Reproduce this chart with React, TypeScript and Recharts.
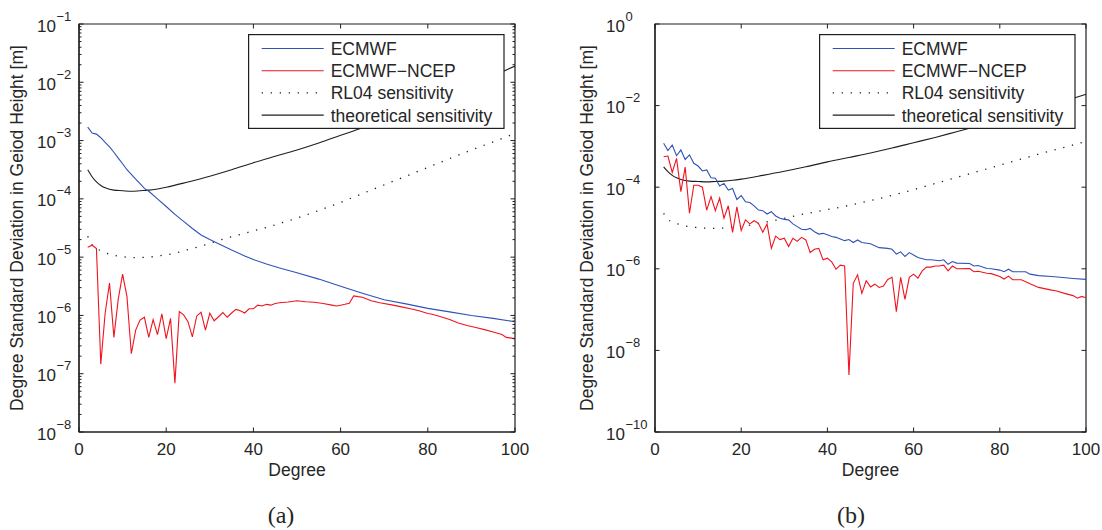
import React from 'react';
import { LineChart, Line, XAxis, YAxis, ReferenceArea } from 'recharts';

const SANS = '"Liberation Sans", Arial, Helvetica, sans-serif';
const SERIF = '"Liberation Serif", "Times New Roman", Times, serif';
const INK = '#262626';
const BLUE = '#2f52b8';
const RED = '#f0141e';
const BLACK = '#1e1e1e';

// ---------- tick values / labels ----------
const xTickValues = [0, 20, 40, 60, 80, 100];
const yMajorA = [1e-8, 1e-7, 1e-6, 1e-5, 1e-4, 1e-3, 1e-2, 1e-1];
const minorMultipliers = [2, 3, 4, 5, 6, 7, 8, 9];
const yMajorB = [1e-10, 1e-8, 1e-6, 1e-4, 1e-2, 1];
const legendNames = ['ECMWF', 'ECMWF\u2212NCEP', 'RL04 sensitivity', 'theoretical sensitivity'];
const xTitle = 'Degree';
const yTitle = 'Degree Standard Deviation in Geiod Height [m]';
const captions = ['(a)', '(b)'];

// ---------- shared sensitivity curves ----------
const theoDeg = [2, 3, 4, 5, 6, 8, 10, 12, 14, 16, 18, 20, 25, 30, 35, 40, 45, 50, 55, 60, 65, 70, 75, 80, 85, 90, 95, 100];
const theoVal = [3.16e-4, 2.4e-4, 1.95e-4, 1.7e-4, 1.55e-4, 1.41e-4, 1.38e-4, 1.35e-4, 1.38e-4, 1.41e-4, 1.48e-4, 1.58e-4, 1.95e-4, 2.45e-4, 3.16e-4, 4.17e-4, 5.37e-4, 6.9e-4, 9.1e-4, 1.23e-3, 1.66e-3, 2.29e-3, 3.16e-3, 4.37e-3, 6.2e-3, 8.9e-3, 1.29e-2, 1.9e-2];

const rl04Deg = [2, 3, 4, 5, 7, 10, 13, 16, 19, 22, 25, 28, 31, 34, 37, 40, 43, 47, 50, 55, 60, 65, 70, 75, 80, 85, 90, 95, 100];
const rl04Val = [2.29e-5, 1.62e-5, 1.41e-5, 1.29e-5, 1.12e-5, 1.02e-5, 9.8e-6, 1.0e-5, 1.07e-5, 1.17e-5, 1.35e-5, 1.55e-5, 1.82e-5, 2.14e-5, 2.45e-5, 2.82e-5, 3.24e-5, 3.98e-5, 4.68e-5, 6.31e-5, 8.7e-5, 1.23e-4, 1.74e-4, 2.45e-4, 3.47e-4, 4.9e-4, 6.9e-4, 9.5e-4, 1.32e-3];

// ---------- panel (a) ----------
const ecmwfADeg = [2, 3, 4, 5, 6, 7, 8, 9, 10, 11, 12, 13, 14, 15, 16, 18, 20, 22, 24, 26, 28, 30, 32, 35, 38, 40, 43, 46, 50, 55, 60, 65, 70, 75, 80, 85, 90, 95, 100];
const ecmwfAVal = [1.7e-3, 1.35e-3, 1.29e-3, 1.12e-3, 9.3e-4, 7.8e-4, 6.3e-4, 5.0e-4, 4.0e-4, 3.16e-4, 2.63e-4, 2.19e-4, 1.82e-4, 1.51e-4, 1.35e-4, 1.0e-4, 7.4e-5, 5.4e-5, 4.1e-5, 3.1e-5, 2.4e-5, 2.0e-5, 1.7e-5, 1.32e-5, 1.05e-5, 9.1e-6, 7.6e-6, 6.5e-6, 5.4e-6, 4.2e-6, 3.16e-6, 2.4e-6, 1.86e-6, 1.58e-6, 1.32e-6, 1.15e-6, 1.0e-6, 8.9e-7, 7.8e-7];

const ncepADeg = [2, 3, 4, 5, 6, 7, 8, 9, 10, 11, 12, 13, 14, 15, 16, 17, 18, 19, 20, 21, 22, 23, 24, 25, 26, 27, 28, 29, 30, 31, 32, 33, 34, 35, 36, 37, 38, 39, 40, 41, 42, 43, 44, 45, 46,
  48, 50, 52, 54, 56, 58, 59, 60, 61, 62, 63, 64, 65, 67, 69, 72, 74, 76, 78, 80, 81, 83, 85, 87, 89, 91, 93, 95, 97, 98, 100];
const ncepAVal = [1.48e-5, 1.6e-5, 1.4e-5, 1.45e-7, 1.1e-6, 3.6e-6, 4.2e-7, 1.9e-6, 5.1e-6, 2.1e-6, 2.2e-7, 5.6e-7, 8.3e-7, 9.3e-7, 4.2e-7, 8.5e-7, 4.7e-7, 1.06e-6, 4.0e-7, 8.9e-7, 6.9e-8, 1.16e-6, 1.02e-6, 7.8e-7, 4.3e-7, 9.8e-7, 1.13e-6, 5.6e-7, 1.09e-6, 8.1e-7, 9.5e-7, 1.12e-6, 9.3e-7, 1.1e-6, 1.27e-6, 1.2e-6, 1.1e-6, 1.3e-6, 1.3e-6, 1.5e-6, 1.45e-6, 1.55e-6, 1.5e-6, 1.6e-6, 1.65e-6,
  1.7e-6, 1.79e-6, 1.72e-6, 1.68e-6, 1.6e-6, 1.5e-6, 1.45e-6, 1.5e-6, 1.55e-6, 1.62e-6, 2.16e-6, 2.1e-6, 2.05e-6, 1.78e-6, 1.65e-6, 1.5e-6, 1.4e-6, 1.3e-6, 1.2e-6, 1.08e-6, 1.05e-6, 9.5e-7, 8.5e-7, 7.4e-7, 6.7e-7, 6.2e-7, 5.7e-7, 5.2e-7, 4.7e-7, 4.2e-7, 4.0e-7];

// ---------- panel (b) ----------
const ecmwfBDeg = [2, 3, 4, 5, 6, 7, 8, 9, 10, 11, 12, 13, 14, 15, 16, 17, 18, 19, 20, 21, 22, 23, 24, 25, 26, 27, 28, 29, 30, 31, 32, 33, 34,
  35, 36, 37, 38, 39, 40, 41, 42, 43, 44, 45, 46, 47, 48, 50, 52, 54, 55, 56, 57, 58, 59, 61, 63, 64, 66, 67, 68, 69, 70, 73, 74, 75, 77, 78, 80, 81, 82, 83, 86, 87, 89, 92, 94, 97, 100];
const ecmwfBVal = [1.19e-3, 7.9e-4, 1.08e-3, 5.9e-4, 8.2e-4, 4.8e-4, 6.2e-4, 3.85e-4, 3.3e-4, 2.5e-4, 2.64e-4, 1.71e-4, 1.65e-4, 1.07e-4, 1.24e-4, 8.5e-5, 9.3e-5, 5.0e-5, 6.2e-5, 4.4e-5, 4.2e-5, 3.5e-5, 2.75e-5, 2.66e-5, 2.2e-5, 2.51e-5, 1.97e-5, 1.73e-5, 1.63e-5, 1.58e-5, 1.26e-5, 1.08e-5, 9.3e-6,
  9.1e-6, 9.8e-6, 8.1e-6, 7.1e-6, 7.4e-6, 6.8e-6, 6.2e-6, 5.9e-6, 5.4e-6, 4.9e-6, 5.2e-6, 4.4e-6, 5.1e-6, 4.4e-6, 4.1e-6, 3.3e-6, 3.16e-6, 3.0e-6, 2.3e-6, 2.6e-6, 2.0e-6, 2.5e-6, 1.9e-6, 1.66e-6, 1.66e-6, 1.58e-6, 1.66e-6, 1.29e-6, 1.51e-6, 1.38e-6, 1.35e-6, 1.17e-6, 1.2e-6, 1.02e-6, 1.0e-6, 9.3e-7, 8.5e-7, 9.8e-7, 8.5e-7, 8.5e-7, 7.4e-7, 6.8e-7, 6.5e-7, 6.2e-7, 5.8e-7, 5.5e-7];

const ncepBDeg = [2, 3, 4, 5, 6, 7, 8, 9, 10, 11, 12, 13, 14, 15, 16, 17, 18, 19, 20, 21, 22, 23, 24, 25, 26, 27, 28, 29, 30, 31, 32, 33, 34,
  35, 36, 37, 38, 39, 40, 41, 42, 43, 44, 45, 46, 47, 48, 49, 50, 51, 52, 53, 54, 55, 56, 57, 58, 59, 60, 61, 62, 63, 64, 65, 66, 67, 68, 69, 70,
  73, 74, 75, 77, 78, 80, 81, 82, 83, 85, 87, 89, 92, 93, 95, 97, 98, 99, 100];
const ncepBVal = [5.6e-4, 5.8e-4, 2.3e-4, 5.1e-4, 7.8e-5, 3.1e-4, 2.3e-5, 1.12e-4, 1.12e-4, 1.0e-4, 2.75e-5, 5.9e-5, 2.66e-5, 5.4e-5, 1.74e-5, 3.5e-5, 7.8e-6, 3.3e-5, 8.7e-6, 1.58e-5, 1.26e-5, 1.51e-5, 1.3e-5, 7.9e-6, 1.26e-5, 3.16e-6, 6.3e-6, 5.2e-6, 5.6e-6, 3.5e-6, 5.6e-6, 4.7e-6, 5.9e-6,
  5.1e-6, 2.5e-6, 3.0e-6, 3.16e-6, 1.66e-6, 1.82e-6, 1.48e-6, 9.8e-7, 1.23e-6, 1.17e-6, 2.5e-9, 4.4e-7, 7.1e-7, 2.5e-7, 5.1e-7, 3.6e-7, 4.2e-7, 3.5e-7, 3.8e-7, 5.5e-7, 6.2e-7, 8.9e-8, 6.2e-7, 1.78e-7, 6.2e-7, 7.4e-7, 5.9e-7, 8.9e-7, 1.1e-6, 1.1e-6, 1.17e-6, 1.17e-6, 1.23e-6, 8.9e-7, 1.17e-6, 1.0e-6,
  1.02e-6, 8.5e-7, 8.7e-7, 7.8e-7, 7.6e-7, 6.5e-7, 5.6e-7, 6.6e-7, 5.4e-7, 5.4e-7, 4.3e-7, 3.5e-7, 3.0e-7, 2.9e-7, 2.5e-7, 2.2e-7, 1.9e-7, 2.1e-7, 1.95e-7];

// ---------- helpers ----------
const toPoints = (deg: number[], val: number[]) => deg.map((d, i) => ({ d, v: val[i] }));

const yTicksA = [
  ...yMajorA,
  ...yMajorA.slice(0, -1).flatMap((m) => minorMultipliers.map((k) => k * m)),
].sort((a, b) => a - b);

const PLOT_TOP = 24;
const PLOT_H = 408;
const CHART_H = 480;

const makeXTick = (plotH: number) => (p: any) => {
  const { x, y, payload } = p;
  return (
    <g>
      <line x1={x} y1={y} x2={x} y2={y - 4.5} stroke={BLACK} strokeWidth={1} />
      <line x1={x} y1={y - plotH} x2={x} y2={y - plotH + 4.5} stroke={BLACK} strokeWidth={1} />
      <text x={x} y={y + 23} textAnchor="middle" fontFamily={SANS} fontSize={17} fill={INK}>
        {payload.value}
      </text>
    </g>
  );
};

const makeYTick = (plotW: number, baseGap: number) => (p: any) => {
  const { x, y, payload } = p;
  const lg = Math.log10(payload.value);
  const e = Math.round(lg);
  const major = Math.abs(lg - e) < 1e-6;
  const len = major ? 4.5 : 2.5;
  return (
    <g>
      <line x1={x} y1={y} x2={x + len} y2={y} stroke={BLACK} strokeWidth={1} />
      <line x1={x + plotW - len} y1={y} x2={x + plotW} y2={y} stroke={BLACK} strokeWidth={1} />
      {major && (
        <text x={x - baseGap} y={y + 7.5} textAnchor="end" fontFamily={SANS} fontSize={17} fill={INK}>
          10
        </text>
      )}
      {major && (
        <text x={x - baseGap + 0.5} y={y - 3.5} textAnchor="start" fontFamily={SANS} fontSize={13} fill={INK}>
          {e === 0 ? '0' : '\u2212' + Math.abs(e)}
        </text>
      )}
    </g>
  );
};

const XTitle = (props: any) => (
  <text x={props.tx} y={props.ty} textAnchor="middle" fontFamily={SANS} fontSize={17.5} fill={INK}>
    {xTitle}
  </text>
);

const YTitle = (props: any) => (
  <text
    x={props.tx}
    y={props.ty}
    transform={`rotate(-90, ${props.tx}, ${props.ty})`}
    textAnchor="middle"
    fontFamily={SANS}
    fontSize={17.5}
    fill={INK}
  >
    {yTitle}
  </text>
);

type SeriesDef = { name: string; deg: number[]; val: number[]; color: string; dash?: string; width: number; curve: 'linear' | 'monotone' };

const legendStyles = [
  { color: BLUE, dash: undefined as string | undefined, width: 1.1 },
  { color: RED, dash: undefined as string | undefined, width: 1.1 },
  { color: BLACK, dash: '1.3 7.7', width: 1.3 },
  { color: BLACK, dash: undefined as string | undefined, width: 1.1 },
];

function LegendBox({ left }: { left: number }) {
  return (
    <svg style={{ position: 'absolute', left, top: 34 }} width={257} height={96}>
      <rect x={0.6} y={0.6} width={255.4} height={93.8} fill="#fff" stroke={BLACK} strokeWidth={1.2} />
      {legendNames.map((n, i) => {
        const ly = 14.5 + i * 22.2;
        const st = legendStyles[i];
        return (
          <g key={n}>
            <line x1={13.7} y1={ly} x2={75.7} y2={ly} stroke={st.color} strokeWidth={st.width} strokeDasharray={st.dash} />
            <text x={82.7} y={ly + 6.5} fontFamily={SANS} fontSize={17.5} fill={INK}>
              {n}
            </text>
          </g>
        );
      })}
    </svg>
  );
}

type PanelProps = {
  left: number;
  width: number;
  yAxisWidth: number;
  marginRight: number;
  yDomain: [number, number];
  yTicks: number[];
  baseGap: number;
  yTitleX: number;
  series: SeriesDef[];
};

function Panel({ left, width, yAxisWidth, marginRight, yDomain, yTicks, baseGap, yTitleX, series }: PanelProps) {
  const plotW = width - yAxisWidth - marginRight;
  return (
    <div style={{ position: 'absolute', left, top: 0, width, height: CHART_H }}>
      <LineChart width={width} height={CHART_H} margin={{ top: PLOT_TOP, right: marginRight, bottom: 0, left: 0 }}>
        <XAxis
          dataKey="d"
          type="number"
          domain={[0, 100]}
          ticks={xTickValues}
          interval={0}
          allowDataOverflow
          height={CHART_H - PLOT_TOP - PLOT_H}
          tickSize={0}
          tickMargin={0}
          tickLine={false}
          tick={makeXTick(PLOT_H)}
          axisLine={{ stroke: BLACK, strokeWidth: 1.2 }}
          label={<XTitle tx={yAxisWidth + plotW / 2} ty={476} />}
        />
        <YAxis
          type="number"
          scale="log"
          domain={yDomain}
          ticks={yTicks}
          interval={0}
          allowDataOverflow
          width={yAxisWidth}
          tickSize={0}
          tickMargin={0}
          tickLine={false}
          tick={makeYTick(plotW, baseGap)}
          axisLine={{ stroke: BLACK, strokeWidth: 1.2 }}
          label={<YTitle tx={yTitleX} ty={PLOT_TOP + PLOT_H / 2} />}
        />
        <ReferenceArea x1={0} x2={100} y1={yDomain[0]} y2={yDomain[1]} fill="none" stroke={BLACK} strokeWidth={1.2} />
        {series.map((s) => (
          <Line
            key={s.name}
            name={s.name}
            data={toPoints(s.deg, s.val)}
            dataKey="v"
            type={s.curve}
            stroke={s.color}
            strokeWidth={s.width}
            strokeDasharray={s.dash}
            dot={false}
            activeDot={false}
            isAnimationActive={false}
          />
        ))}
      </LineChart>
    </div>
  );
}

const seriesA: SeriesDef[] = [
  { name: 'rl04', deg: rl04Deg, val: rl04Val, color: BLACK, dash: '1.3 7.7', width: 1.3, curve: 'monotone' },
  { name: 'theo', deg: theoDeg, val: theoVal, color: BLACK, width: 1.1, curve: 'monotone' },
  { name: 'ncep', deg: ncepADeg, val: ncepAVal, color: RED, width: 1.1, curve: 'linear' },
  { name: 'ecmwf', deg: ecmwfADeg, val: ecmwfAVal, color: BLUE, width: 1.1, curve: 'linear' },
];

const seriesB: SeriesDef[] = [
  { name: 'rl04', deg: rl04Deg, val: rl04Val, color: BLACK, dash: '1.3 7.7', width: 1.3, curve: 'monotone' },
  { name: 'theo', deg: theoDeg, val: theoVal, color: BLACK, width: 1.1, curve: 'monotone' },
  { name: 'ncep', deg: ncepBDeg, val: ncepBVal, color: RED, width: 1.1, curve: 'linear' },
  { name: 'ecmwf', deg: ecmwfBDeg, val: ecmwfBVal, color: BLUE, width: 1.1, curve: 'linear' },
];

export default function App() {
  return (
    <div style={{ position: 'absolute', left: 0, top: 0, width: 1102, height: 530, background: '#fff', overflow: 'hidden' }}>
      <Panel
        left={0}
        width={540}
        yAxisWidth={79}
        marginRight={25}
        yDomain={[1e-8, 1e-1]}
        yTicks={yTicksA}
        baseGap={23}
        yTitleX={23}
        series={seriesA}
      />
      <Panel
        left={560}
        width={540}
        yAxisWidth={95}
        marginRight={14}
        yDomain={[1e-10, 1]}
        yTicks={yMajorB}
        baseGap={30}
        yTitleX={33}
        series={seriesB}
      />
      <LegendBox left={248} />
      <LegendBox left={819} />
      <svg style={{ position: 'absolute', left: 0, top: 0 }} width={1102} height={530} pointerEvents="none">
        <text x={281} y={523} textAnchor="middle" fontFamily={SERIF} fontSize={24} fill={INK}>
          {captions[0]}
        </text>
        <text x={851} y={523} textAnchor="middle" fontFamily={SERIF} fontSize={24} fill={INK}>
          {captions[1]}
        </text>
      </svg>
    </div>
  );
}
